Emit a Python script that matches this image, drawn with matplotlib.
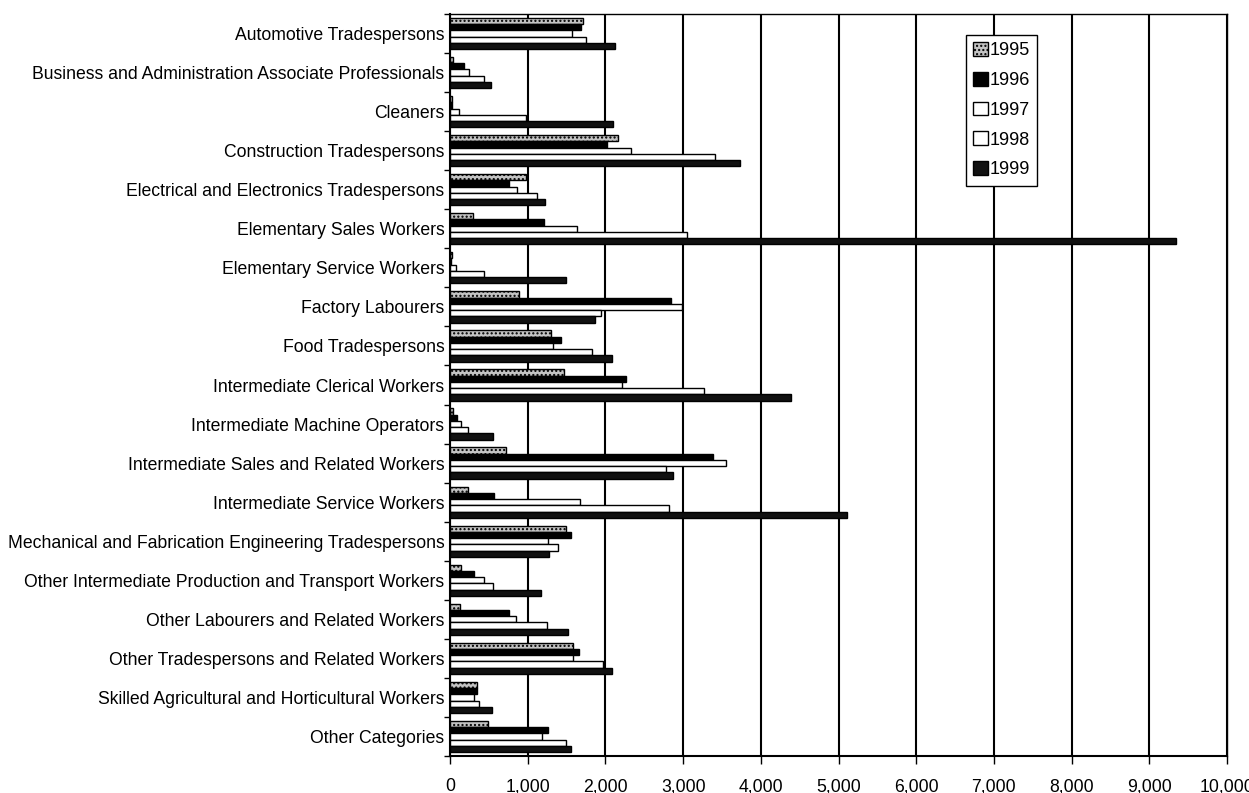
import matplotlib
matplotlib.use("Agg")
import matplotlib.pyplot as plt
import numpy as np
from matplotlib.ticker import FuncFormatter

plt.rcParams['font.family'] = ['Liberation Sans', 'DejaVu Sans']

categories = [
    "Automotive Tradespersons",
    "Business and Administration Associate Professionals",
    "Cleaners",
    "Construction Tradespersons",
    "Electrical and Electronics Tradespersons",
    "Elementary Sales Workers",
    "Elementary Service Workers",
    "Factory Labourers",
    "Food Tradespersons",
    "Intermediate Clerical Workers",
    "Intermediate Machine Operators",
    "Intermediate Sales and Related Workers",
    "Intermediate Service Workers",
    "Mechanical and Fabrication Engineering Tradespersons",
    "Other Intermediate Production and Transport Workers",
    "Other Labourers and Related Workers",
    "Other Tradespersons and Related Workers",
    "Skilled Agricultural and Horticultural Workers",
    "Other Categories",
]

years = ["1995", "1996", "1997", "1998", "1999"]

v1995 = [1707, 35, 20, 2158, 978, 292, 20, 884, 1300, 1471, 35, 721, 236, 1489, 137, 129, 1579, 343, 493]
v1996 = [1690, 180, 20, 2016, 764, 1214, 15, 2840, 1424, 2265, 86, 3389, 571, 1553, 313, 759, 1660, 343, 1257]
v1997 = [1574, 250, 120, 2325, 858, 1630, 77, 2982, 1330, 2218, 137, 3552, 1673, 1266, 442, 849, 1587, 313, 1188]
v1998 = [1746, 438, 974, 3411, 1116, 3046, 442, 1939, 1823, 3273, 228, 2776, 2823, 1386, 558, 1253, 1973, 377, 1489]
v1999 = [2120, 528, 2100, 3732, 1227, 9350, 1489, 1870, 2080, 4389, 549, 2874, 5113, 1274, 1171, 1515, 2085, 536, 1557]

series = [v1995, v1996, v1997, v1998, v1999]
faces = ['#c4c4c4', '#000000', '#ffffff', '#ffffff', '#111111']
hatches = ['....', None, None, None, None]

fig = plt.figure(figsize=(12.49, 7.93), dpi=100)
ax = fig.add_axes([450/1249, 1 - 756/793, 777/1249, 742/793])

n = len(categories)
y = np.arange(n)
h = 0.16
for j, (vals, fc, ht, lab) in enumerate(zip(series, faces, hatches, years)):
    ax.barh(y + (j - 2) * h, vals, height=h, color=fc, edgecolor='black',
            linewidth=1.0, hatch=ht, label=lab, zorder=3)

ax.set_xlim(0, 10000)
ax.set_ylim(n - 0.5, -0.5)
ax.set_xticks(np.arange(0, 10001, 1000))
ax.xaxis.set_major_formatter(FuncFormatter(lambda v, p: f"{int(v):,}"))
ax.set_yticks(y)
ax.set_yticklabels(categories)
ax.set_yticks(np.arange(-0.5, n, 1.0), minor=True)
ax.tick_params(axis='y', which='major', length=0, labelsize=12.7, pad=4)
ax.tick_params(axis='y', which='minor', length=4, width=1)
ax.tick_params(axis='x', length=6, width=1, labelsize=12.7, pad=10)
ax.grid(axis='x', color='black', linewidth=1.5, zorder=0)
ax.set_axisbelow(True)
for s in ['top', 'right']:
    ax.spines[s].set_linewidth(1.0)
for s in ['left', 'bottom']:
    ax.spines[s].set_linewidth(1.5)

leg = ax.legend(loc='upper left', bbox_to_anchor=(0.664, 0.972), fontsize=13,
                frameon=True, fancybox=False, edgecolor='black', framealpha=1,
                handlelength=0.8, handleheight=0.8, handletextpad=0.1,
                labelspacing=0.7, borderpad=0.4, borderaxespad=0)
leg.get_frame().set_linewidth(1.0)

fig.savefig("out.png", dpi=100)
